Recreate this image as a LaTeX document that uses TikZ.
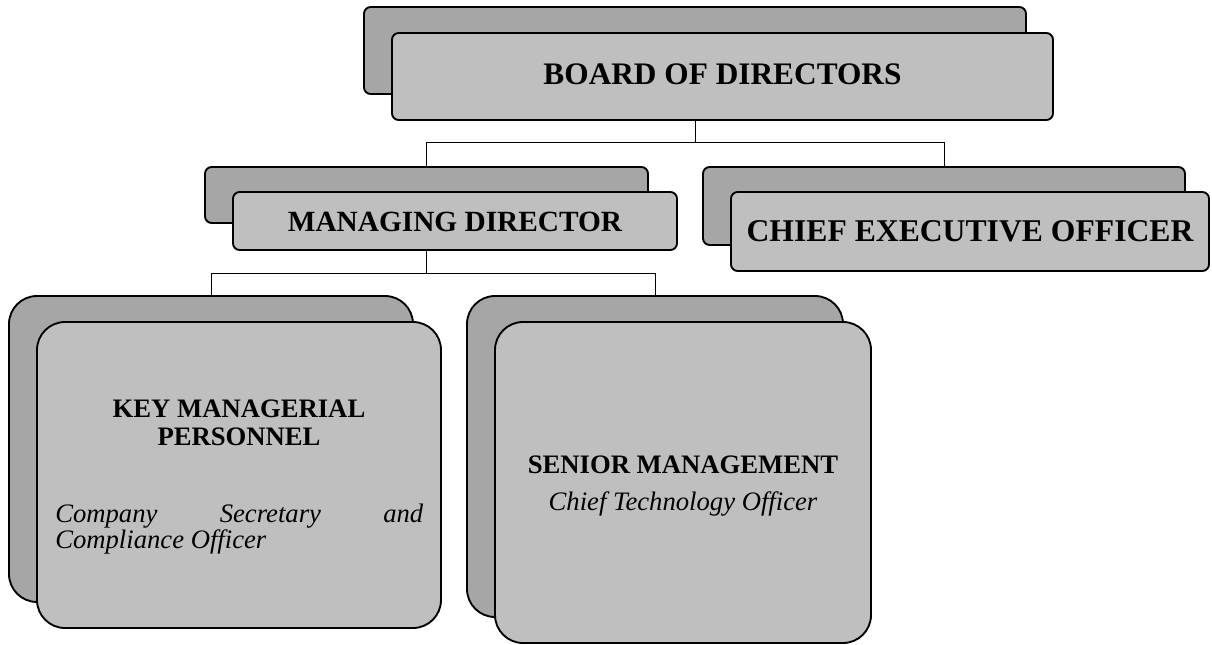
\documentclass[tikz,border=0pt]{standalone}
\usepackage{fontspec}
\setmainfont{Liberation Serif}
\definecolor{backgray}{HTML}{A6A6A6}
\definecolor{frontgray}{HTML}{BFBFBF}
\newcommand{\orgbox}[6]{%
  \node[#6, minimum width={(#4-#2)*0.75pt}, minimum height={(#5-#3)*0.75pt}]
    (#1) at ({(#2+#4)/2},{(#3+#5)/2}) {};}
\tikzset{
  boxbase/.style={draw=black, line width=1.4pt, inner sep=0pt, outer sep=0pt, rectangle},
  topback/.style={boxbase, fill=backgray, rounded corners=5pt},
  topfront/.style={boxbase, fill=frontgray, rounded corners=5pt},
  lowback/.style={boxbase, fill=backgray, rounded corners=21pt},
  lowfront/.style={boxbase, fill=frontgray, rounded corners=21pt},
  link/.style={draw=black, line width=0.75pt},
  txt/.style={inner sep=0pt, anchor=base},
}
\begin{document}
\begin{tikzpicture}[x=0.75pt, y=-0.75pt]
\useasboundingbox (0,0) rectangle (1212,645);
% top level
\orgbox{bodB}{364}{7}{1026}{94}{topback}
\orgbox{bodF}{392}{33}{1053}{120}{topfront}
\node[txt, font=\fontsize{23.5}{26}\selectfont\bfseries] (bodT) at (722.5,85) {BOARD OF DIRECTORS};
% second level
\orgbox{mdB}{205}{167}{648}{223}{topback}
\orgbox{mdF}{233}{192}{677}{250}{topfront}
\node[txt, font=\fontsize{22}{24}\selectfont\bfseries] (mdT) at (455,232) {MANAGING DIRECTOR};
\orgbox{ceoB}{703}{167}{1185}{245}{topback}
\orgbox{ceoF}{731}{192}{1209}{271}{topfront}
\node[txt, font=\fontsize{23.75}{26}\selectfont\bfseries] (ceoT) at (970,242) {CHIEF EXECUTIVE OFFICER};
% third level
\orgbox{kmpB}{9}{296}{413}{602}{lowback}
\orgbox{kmpF}{37}{322}{441}{628}{lowfront}
\node[txt, font=\fontsize{20}{21}\selectfont\bfseries] (kmpT1) at (239,417) {KEY MANAGERIAL};
\node[txt, font=\fontsize{20}{21}\selectfont\bfseries] (kmpT2) at (239,445) {PERSONNEL};
\node[txt, anchor=base west, font=\fontsize{20}{21}\selectfont\itshape] (kmpI1) at (55,522) {\hbox to 276pt{Company\hfill Secretary\hfill and}};
\node[txt, anchor=base west, font=\fontsize{20}{21}\selectfont\itshape] (kmpI2) at (55,548) {Compliance Officer};
\orgbox{smB}{467}{296}{843}{617}{lowback}
\orgbox{smF}{495}{322}{871}{643}{lowfront}
\node[txt, font=\fontsize{20}{21}\selectfont\bfseries] (smT) at (683,473) {SENIOR MANAGEMENT};
\node[txt, font=\fontsize{20}{21}\selectfont\itshape] (smI) at (683,510) {Chief Technology Officer};
% connectors
\coordinate (j1) at (695,143);
\draw[link] (bodF.south -| j1) -- (j1) -| (mdB.north);
\draw[link] (j1) -| (ceoB.north);
\coordinate (j2) at (426.5,273);
\draw[link] (mdF.south -| j2) -- (j2) -| (kmpB.north);
\draw[link] (j2) -| (smB.north);
\end{tikzpicture}
\end{document}
